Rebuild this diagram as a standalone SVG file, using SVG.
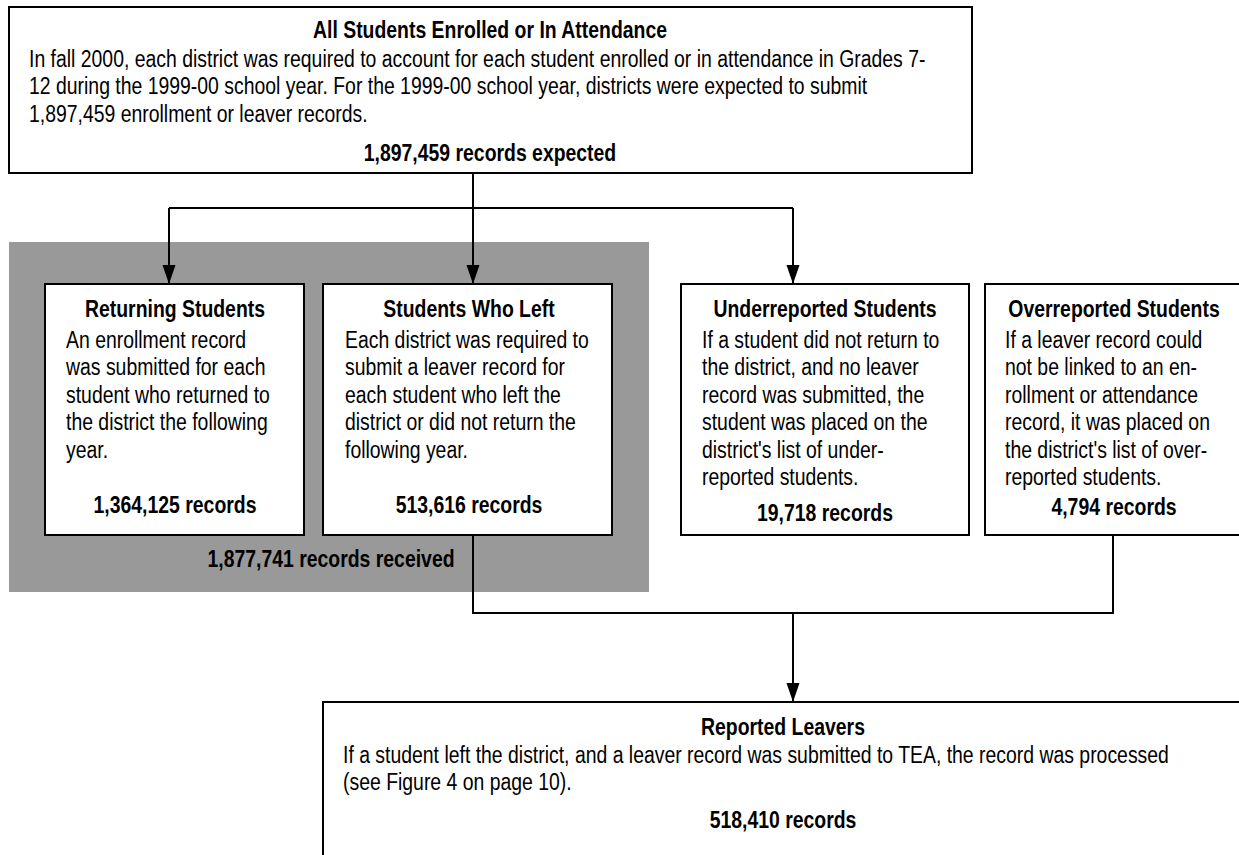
<svg xmlns="http://www.w3.org/2000/svg" width="1239" height="855" viewBox="0 0 1239 855">
  <style>
    .box { fill: #ffffff; stroke: #000000; stroke-width: 2; }
    .band { fill: #999999; stroke: none; }
    .conn { fill: none; stroke: #000000; stroke-width: 2; }
    text { font-family: "Liberation Sans", Arial, sans-serif; font-size: 23.5px; fill: #000000; }
    .b { font-weight: bold; }
    .c { text-anchor: middle; }
  </style>
  <defs>
    <marker id="arr" markerUnits="userSpaceOnUse" markerWidth="20" markerHeight="14" refX="19" refY="6.5" orient="auto">
      <path d="M0,0 L19,6.5 L0,13 Z" fill="#000000"/>
    </marker>
  </defs>
  <rect class="band" x="9" y="242" width="640" height="350"/>
  <g id="all-students">
    <rect class="box" x="9" y="7" width="963" height="166"/>
    <text class="b c" transform="translate(490,38) scale(0.826,1)" x="0" y="0">All Students Enrolled or In Attendance</text>
    <text transform="translate(29,67) scale(0.826,1)">
      <tspan x="0" y="0">In fall 2000, each district was required to account for each student enrolled or in attendance in Grades 7-</tspan>
      <tspan x="0" y="27.5">12 during the 1999-00 school year. For the 1999-00 school year, districts were expected to submit</tspan>
      <tspan x="0" y="55">1,897,459 enrollment or leaver records.</tspan>
    </text>
    <text class="b c" transform="translate(490,161) scale(0.826,1)" x="0" y="0">1,897,459 records expected</text>
  </g>
  <g id="returning">
    <rect class="box" x="45" y="284" width="259" height="251"/>
    <text class="b c" transform="translate(175,317) scale(0.826,1)" x="0" y="0">Returning Students</text>
    <text transform="translate(66,348) scale(0.826,1)">
      <tspan x="0" y="0">An enrollment record</tspan>
      <tspan x="0" y="27.5">was submitted for each</tspan>
      <tspan x="0" y="55">student who returned to</tspan>
      <tspan x="0" y="82.5">the district the following</tspan>
      <tspan x="0" y="110">year.</tspan>
    </text>
    <text class="b c" transform="translate(175,513) scale(0.826,1)" x="0" y="0">1,364,125 records</text>
  </g>
  <g id="left">
    <rect class="box" x="323" y="284" width="289" height="251"/>
    <text class="b c" transform="translate(469,317) scale(0.826,1)" x="0" y="0">Students Who Left</text>
    <text transform="translate(345,348) scale(0.826,1)">
      <tspan x="0" y="0">Each district was required to</tspan>
      <tspan x="0" y="27.5">submit a leaver record for</tspan>
      <tspan x="0" y="55">each student who left the</tspan>
      <tspan x="0" y="82.5">district or did not return the</tspan>
      <tspan x="0" y="110">following year.</tspan>
    </text>
    <text class="b c" transform="translate(469,513) scale(0.826,1)" x="0" y="0">513,616 records</text>
  </g>
  <g id="received">
    <text class="b c" transform="translate(331,567) scale(0.826,1)" x="0" y="0">1,877,741 records received</text>
  </g>
  <g id="underreported">
    <rect class="box" x="681" y="284" width="288" height="251"/>
    <text class="b c" transform="translate(825,317) scale(0.826,1)" x="0" y="0">Underreported Students</text>
    <text transform="translate(702,348) scale(0.826,1)">
      <tspan x="0" y="0">If a student did not return to</tspan>
      <tspan x="0" y="27.5">the district, and no leaver</tspan>
      <tspan x="0" y="55">record was submitted, the</tspan>
      <tspan x="0" y="82.5">student was placed on the</tspan>
      <tspan x="0" y="110">district's list of under-</tspan>
      <tspan x="0" y="137.5">reported students.</tspan>
    </text>
    <text class="b c" transform="translate(825,521) scale(0.826,1)" x="0" y="0">19,718 records</text>
  </g>
  <g id="overreported">
    <rect class="box" x="985" y="284" width="259" height="251"/>
    <text class="b c" transform="translate(1114,317) scale(0.826,1)" x="0" y="0">Overreported Students</text>
    <text transform="translate(1005,348) scale(0.826,1)">
      <tspan x="0" y="0">If a leaver record could</tspan>
      <tspan x="0" y="27.5">not be linked to an en-</tspan>
      <tspan x="0" y="55">rollment or attendance</tspan>
      <tspan x="0" y="82.5">record, it was placed on</tspan>
      <tspan x="0" y="110">the district's list of over-</tspan>
      <tspan x="0" y="137.5">reported students.</tspan>
    </text>
    <text class="b c" transform="translate(1114,515) scale(0.826,1)" x="0" y="0">4,794 records</text>
  </g>
  <g id="reported">
    <rect class="box" x="323" y="702" width="921" height="170"/>
    <text class="b c" transform="translate(783,735) scale(0.826,1)" x="0" y="0">Reported Leavers</text>
    <text transform="translate(343,763) scale(0.826,1)">
      <tspan x="0" y="0">If a student left the district, and a leaver record was submitted to TEA, the record was processed</tspan>
      <tspan x="0" y="27.5">(see Figure 4 on page 10).</tspan>
    </text>
    <text class="b c" transform="translate(783,828) scale(0.826,1)" x="0" y="0">518,410 records</text>
  </g>
  <g id="connectors">
    <path class="conn" d="M473,173 V208"/>
    <path class="conn" d="M169,208 H793"/>
    <path class="conn" d="M169,208 V284" marker-end="url(#arr)"/>
    <path class="conn" d="M473,208 V284" marker-end="url(#arr)"/>
    <path class="conn" d="M793,208 V284" marker-end="url(#arr)"/>
    <path class="conn" d="M473,535 V613 H1113 V535"/>
    <path class="conn" d="M793,613 V702" marker-end="url(#arr)"/>
  </g>
</svg>
